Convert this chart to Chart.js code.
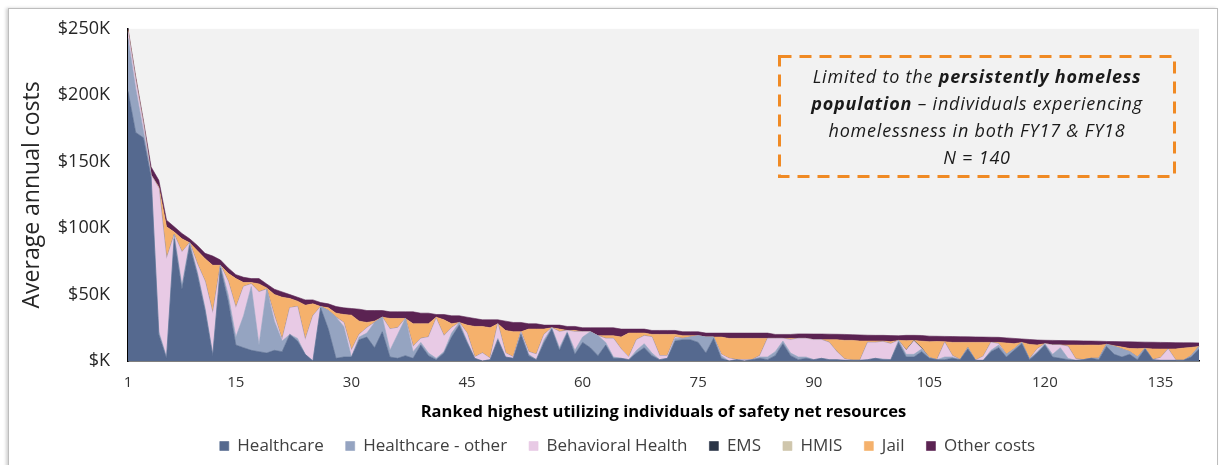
<!DOCTYPE html>
<html>
<head>
<meta charset="utf-8">
<script src="https://cdn.jsdelivr.net/npm/chart.js@4.4.1/dist/chart.umd.min.js"></script>
<style>
  html, body { margin: 0; padding: 0; background: #fff; }
  #wrap { position: relative; width: 1225px; height: 465px; overflow: hidden; font-family: "Open Sans", sans-serif; }
  #frame { position: absolute; left: 8px; top: 8px; width: 1208px; height: 480px; border: 1px solid #bdbdbd; box-shadow: -2px 0 3px rgba(0,0,0,0.18); }
  #chart { position: absolute; left: 0; top: 0; }
  #note { position: absolute; left: 778px; top: 55px; width: 398px; height: 123px; }
  #note svg { position: absolute; left: 0; top: 0; }
  #note .txt { position: absolute; left: 0; top: 8px; width: 100%; text-align: center; font-style: italic; font-size: 18px; letter-spacing: 0.8px; line-height: 27px; color: #1a1a1a; }
</style>
</head>
<body>
<div id="wrap">
  <div id="frame"></div>
  <canvas id="chart" width="1225" height="465"></canvas>
  <div id="note">
    <svg width="398" height="123"><rect x="1.5" y="1.5" width="395" height="120" fill="none" stroke="#F08A24" stroke-width="3" stroke-dasharray="12 8"/></svg>
    <div class="txt">Limited to the <b>persistently homeless</b><br><b>population</b> – individuals experiencing<br>homelessness in both FY17 &amp; FY18<br>N = 140</div>
  </div>
</div>
<script>
// ranked individuals (x categories)
const ranks = [
  1,2,3,4,5,6,7,8,9,10, 11,12,13,14,15,16,17,18,19,20,
  21,22,23,24,25,26,27,28,29,30, 31,32,33,34,35,36,37,38,39,40,
  41,42,43,44,45,46,47,48,49,50, 51,52,53,54,55,56,57,58,59,60,
  61,62,63,64,65,66,67,68,69,70, 71,72,73,74,75,76,77,78,79,80,
  81,82,83,84,85,86,87,88,89,90, 91,92,93,94,95,96,97,98,99,100,
  101,102,103,104,105,106,107,108,109,110, 111,112,113,114,115,116,117,118,119,120,
  121,122,123,124,125,126,127,128,129,130, 131,132,133,134,135,136,137,138,139,140
];
const tickLabels = [1, 15, 30, 45, 60, 75, 90, 105, 120, 135];

// average annual costs, $K
const healthcare = [
  203,172,168,138,20,2,92,54,87,65,
  38,4,70,45,12,10,8,7,6,8,
  7,20,15,5,0,40,24,2,3,3,
  16,18,10,22,3,2,4,2,12,4,
  1,6,18,27,14,2,0,1,16,3,
  2,20,4,1,14,24,8,21,5,14,
  10,4,12,2,2,1,6,10,4,1,
  2,15,16,16,14,6,17,2,0,1,
  0,1,2,1,4,13,4,1,2,1,
  2,1,1,0.5,0.5,0.5,1,2,1,1,
  14,3,3,7,2,1,1,2,1,9,
  0.5,0.5,7,10,3,8,13,1,6,12,
  3,2,1,0.5,1,2,1,11,5,3,
  5,1,9,1,0.5,0.5,0.5,0.5,3,9
];
const healthcareOther = [
  40,33,5,1,2,1,3,3,2,2,
  2,1,2,5,6,24,48,5,48,22,
  8,0,2,0,0,1,14,31,23,0,
  2,3,19,11,5,18,28,5,2,2,
  1,1,3,2,1,0,0,0,1,0,
  0,1,1,0,2,1,2,1,3,4,
  12,15,2,1,0,0,2,3,2,0,
  0,2,1,2,5,12,1,2,0,0,
  0,0,1,2,3,2,2,2,1,0,
  0,0,0,0,0,0,0,0,0.5,0,
  1.5,2,2,2,0.5,0,2,1,0,1,
  0,0,1,2,2,1,1,0.5,1,1,
  2,8,1,0,0,0,1,1.5,6,6,
  2,2,0.5,0,0,0,0,0,1,2
];
const behavioral = [
  5,6,5,1,108,74,0,25,0,6,
  20,31,0,10,22,22,2,40,0,4,
  1,20,24,11,34,0,0,0,3,5,
  2,4,0,0,16,5,0,4,3,12,
  30,12,4,0,6,1,6,1,11,3,
  1,1,2,4,4,0,12,1,14,4,
  0,0,3,14,7,2,8,6,12,3,
  2,1,0,0,0,0,0,1,2,0,
  1,0,1,14,10,2,10,14,14,15,
  14,13,6,1,0,0,13,12,13,12,
  0,3,10,0.5,0,0,11,1,0,0,
  0,3,6,1,0,0,0,0,2,0,
  7,2,9,1,0,0,0,0,0,0,
  0,0,0,0,2,8.5,0,0,0,0
];
const ems = [
  0,0,0,0,0,0,0,0,0,0, 0,0,0,0,0,0,0,0,0,0,
  0,0,0,0,0,0,0,0,0,0, 0,0,0,0,0,0,0,0,0,0,
  0,0,0,0,0,0,0,0,0,0, 0,0,0,0,0,0,0,0,0,0,
  0,0,0,0,0,0,0,0,0,0, 0,0,0,0,0,0,0,0,0,0,
  0,0,0,0,0,0,0,0,0,0, 0,0,0,0,0,0,0,0,0,0,
  0,0.3,0.4,0.4,0,0,0,0,0,0, 0,0,0,0,0,0,0,0,0,0,
  0,0,0,0,0,0,0,0,0,0, 0,0,0,0,0,0,0,0,0,0
];
const hmis = [
  0,0,0,0,0,0,0,0,0,0, 0,0,0,0,0,0,0,0,0,0,
  0,0,0,0,0,0,0,0,0,0, 0,0,0,0,0,0,0,0,0,0,
  0,0,0,0,0,0,0,0,0,0, 0,0,0,0,0,0,0,0,0,0,
  0,0,0,0,0,0,0,0,0,0, 0,0,0,0,0,0,0,0,0,0,
  0,0,0,0,0,0,0,0,0,0, 0,0,0,0,0,0,0,0,0,0,
  0,0,0,0,0,0,0,0,0,0, 0,0,0,0,0,0,0,0,0,0,
  0,0,0,0,0,0,0,0,0,0, 0,0,0,0,0,0,0,0,0,0
];
const jail = [
  1,1,1,0,1,24,2,10,0,10,
  17,36,0,6,22,3,1,6,1,16,
  32,7,4,26,9,0,2,3,6,26.5,
  10,4,1,0,8,7,0,17,11,10,
  1,12,3,0,6,23,20,23,0,17,
  19,0,17,19,4,0,2,0,1,0,
  0,0,2,2,9,18,5,2,2,16,
  16,2,2,1,0,0,0,13,15,16,
  16,16,13,0,0,0,1,0,0,0,
  0,2,9,14,15,14.5,1,1,0.5,1.5,
  0,7,0,5,12,13.6,0.5,10,13,4,
  13.5,10.5,0,1,8.5,4,0,11,3,0,
  0,0,1,10.5,10.9,10,9.9,0,0.5,1.5,
  2.4,6.3,0,8.1,6.5,0,8.6,9.2,6.2,0
];
const otherCosts = [
  1,2,2,6,5,5,4,4,3,4,
  4,7,4,4,3,4,3,4,3,4,
  4,3,3,4,3,3,3,5,5,5,
  9,9,8,5,5,5,5,9,8,8,
  2,4,6,5,6,6,5,6,3,7,
  7,7,4,4,3,2,3,3,3,3,
  3,6,6,6,6,3,3,3,3,3,
  3,3,3,3,3,3,3,3,4,4,
  4,4,4,4,3,3,3,3.4,3.4,4.3,
  4.3,4.2,4.1,4.5,4.3,4.6,4.4,4.3,4.3,4.6,
  3.5,4,3.9,4.3,4.2,4,4,4.4,4.3,4.2,
  4.1,4,3.9,3.8,3.9,4,2.6,3.7,3.8,2.6,
  3.5,3.4,3.3,3.2,3.2,3,3,2.2,3.1,4,
  5,5,4.7,5,5,4.9,4.7,4,3.5,2.6
];

const series = [
  { label: 'Healthcare', data: healthcare, color: '#55698F' },
  { label: 'Healthcare - other', data: healthcareOther, color: '#95A4C1' },
  { label: 'Behavioral Health', data: behavioral, color: '#E8CAE5' },
  { label: 'EMS', data: ems, color: '#2A3446' },
  { label: 'HMIS', data: hmis, color: '#CFC6AC' },
  { label: 'Jail', data: jail, color: '#F5B16C' },
  { label: 'Other costs', data: otherCosts, color: '#5B2352' }
];

const plotBg = {
  id: 'plotBg',
  beforeDraw(chart) {
    const { ctx, chartArea: a } = chart;
    ctx.save();
    ctx.fillStyle = '#F2F2F2';
    ctx.fillRect(a.left, a.top, a.right - a.left, a.bottom - a.top);
    ctx.restore();
  }
};

// nudge the legend row to the right, as in the original
const legendShift = {
  id: 'legendShift',
  afterLayout(chart) {
    chart.legend.left += 23;
    chart.legend.right += 23;
  }
};

new Chart(document.getElementById('chart'), {
  type: 'line',
  data: {
    labels: ranks,
    datasets: series.map((s, i) => ({
      label: s.label,
      data: s.data,
      backgroundColor: s.color,
      borderColor: s.color,
      borderWidth: 0.6,
      pointRadius: 0,
      tension: 0,
      fill: i === 0 ? 'origin' : '-1'
    }))
  },
  options: {
    responsive: false,
    animation: false,
    layout: { padding: { left: 10, right: 26, top: 24, bottom: 0.5 } },
    plugins: {
      legend: {
        position: 'bottom',
        labels: {
          boxWidth: 9, boxHeight: 9, padding: 22,
          color: '#404040',
          font: { family: 'Open Sans', size: 17 }
        }
      },
      tooltip: { enabled: false }
    },
    scales: {
      x: {
        offset: false,
        grid: { display: false, drawTicks: false },
        border: { display: true, color: '#000', width: 1.5 },
        ticks: {
          autoSkip: false, maxRotation: 0, padding: 13,
          color: '#333',
          font: { family: 'Open Sans', size: 15 },
          callback(v, i) { return tickLabels.includes(ranks[i]) ? String(ranks[i]) : ''; }
        },
        title: {
          display: true,
          text: 'Ranked highest utilizing individuals of safety net resources',
          color: '#000',
          font: { family: 'Open Sans', size: 16.5, weight: 'bold' },
          padding: { top: 0, bottom: -6.4 }
        },
        afterFit(s) { s.height = 54.5; }
      },
      y: {
        stacked: true,
        min: 0, max: 250,
        grid: { display: false, drawTicks: false },
        border: { display: true, color: '#000', width: 1.5 },
        ticks: {
          stepSize: 50, padding: 18,
          color: '#262626',
          font: { family: 'Open Sans', size: 18 },
          callback(v) { return v === 0 ? '$K' : '$' + v + 'K'; }
        },
        title: {
          display: true,
          text: 'Average annual costs',
          color: '#262626',
          font: { family: 'Open Sans', size: 23 },
          padding: { top: 9, bottom: 0 }
        },
        afterFit(s) { s.width = 118; }
      }
    }
  },
  plugins: [plotBg, legendShift]
});
</script>
</body>
</html>
